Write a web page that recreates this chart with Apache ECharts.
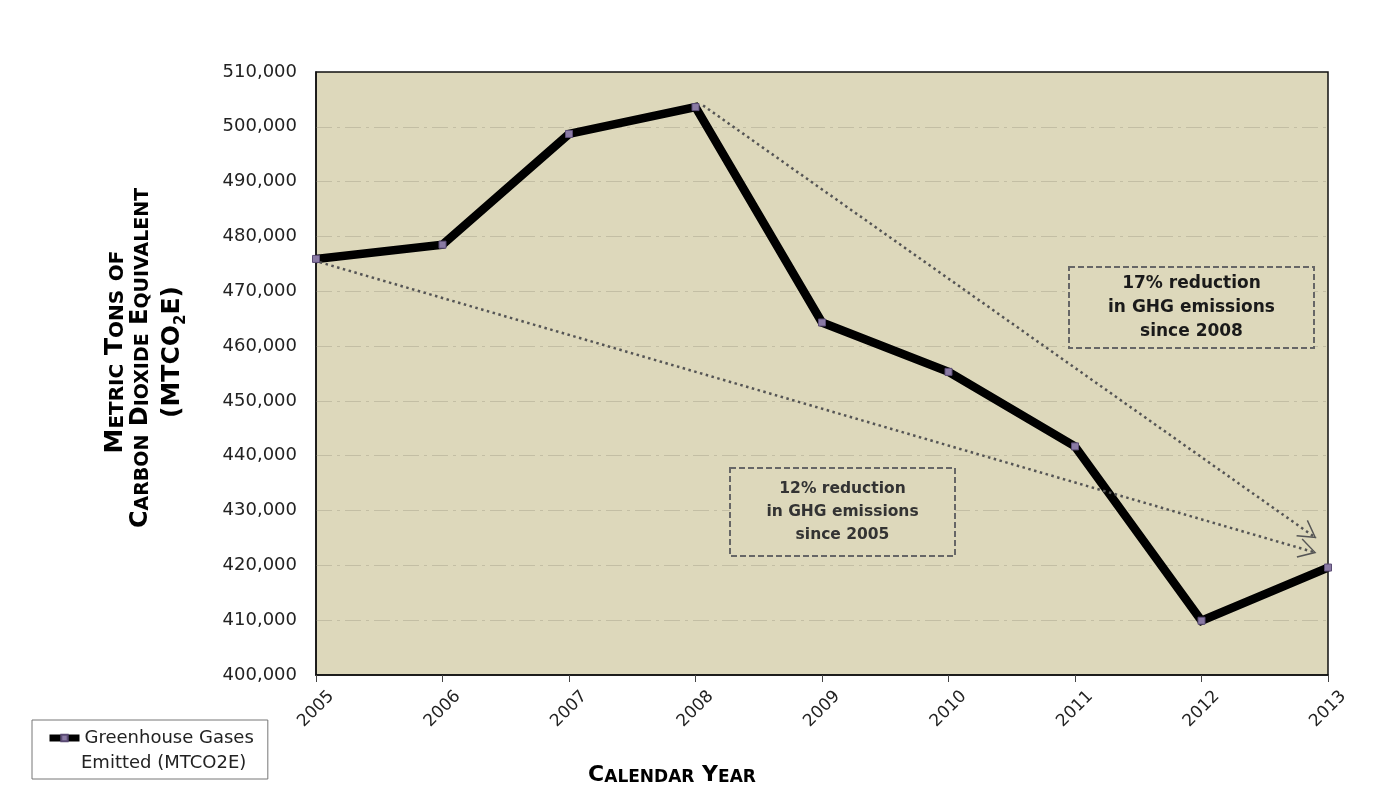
<!DOCTYPE html>
<html>
<head>
<meta charset="utf-8">
<title>Greenhouse Gases Emitted (MTCO2E)</title>
<script src="https://cdn.jsdelivr.net/npm/echarts@6/dist/echarts.min.js"></script>
<style>
  html, body { margin: 0; padding: 0; background: #ffffff; }
  #chart { width: 1392px; height: 804px; }
</style>
</head>
<body>
<div id="chart"></div>
<script>
// Calendar years and annual greenhouse gas emissions (metric tons CO2e)
const years = [2005, 2006, 2007, 2008, 2009, 2010, 2011, 2012, 2013];
const emissions = [475900, 478500, 498700, 503600, 464300, 455300, 441700, 409900, 419600];

// Y axis range and step
const yTicks = { min: 400000, max: 510000, step: 10000 };

// Trend arrows: [start, end] in [year, value]
const trendSince2008 = [[2008.06, 503900], [2012.905, 425000]];
const trendSince2005 = [[2005.03, 475300], [2012.905, 422300]];

// Callout texts
const calloutSince2008 = ['17% reduction', 'in GHG emissions', 'since 2008'];
const calloutSince2005 = ['12% reduction', 'in GHG emissions', 'since 2005'];

const seriesName = 'Greenhouse Gases Emitted (MTCO2E)';
const legendLines = ['Greenhouse Gases', 'Emitted (MTCO2E)'];

const FONT = '"DejaVu Sans", "Liberation Sans", Arial, sans-serif';
const PLOT_BG = '#ddd8bb';

// Open chevron arrowhead; tip sits at the centre of the symbol box
const chevron = 'path://M10,17 L20,34.3 L18.7,35 L10,19.9 L1.3,35 L0,34.3 Z M10,0 L10.01,0 Z';

const chart = echarts.init(document.getElementById('chart'), null, { renderer: 'canvas' });

// Small-caps helper: each word is [large part, small part]
function smallCaps(words) {
  return words.map(w => (w[0] ? '{b|' + w[0] + '}' : '') + (w[1] ? '{s|' + w[1] + '}' : '')).join('{b| }');
}

const titleRich = (big, small) => ({
  b: { fontSize: big, fontWeight: 'bold', fontFamily: FONT, color: '#111', verticalAlign: 'bottom', lineHeight: big },
  s: { fontSize: small, fontWeight: 'bold', fontFamily: FONT, color: '#111', verticalAlign: 'bottom', lineHeight: big },
  sub: { fontSize: 15, fontWeight: 'bold', fontFamily: FONT, color: '#111', verticalAlign: 'bottom', lineHeight: big, padding: [0, 0, -4, 0] }
});

function callout(x, y, w, h, lines, fontSize, lineH, color) {
  return {
    type: 'group',
    x: x, y: y,
    z: 20,
    children: [
      {
        type: 'rect',
        z: 20,
        shape: { x: 0, y: 0, width: w, height: h },
        style: { fill: PLOT_BG, stroke: '#666', lineWidth: 2, lineDash: [6, 3] }
      },
      {
        type: 'text',
        z: 21,
        x: w / 2, y: h / 2,
        style: {
          text: lines.join('\n'),
          align: 'center', verticalAlign: 'middle',
          fontFamily: FONT, fontWeight: 'bold', fontSize: fontSize,
          lineHeight: lineH, fill: color
        }
      }
    ]
  };
}

const option = {
  backgroundColor: '#ffffff',
  animation: false,
  grid: {
    left: 316, right: 64, top: 72, bottom: 129,
    show: true, backgroundColor: PLOT_BG, borderColor: '#111', borderWidth: 1.5,
    outerBoundsMode: 'none'
  },
  legend: {
    left: 32, top: 720,
    orient: 'vertical',
    padding: [9, 14, 32, 14],
    backgroundColor: '#ffffff',
    borderColor: '#777', borderWidth: 1, borderRadius: 0,
    itemWidth: 30, itemHeight: 8,
    lineStyle: { width: 7, color: '#000' },
    formatter: () => legendLines[0],
    textStyle: { fontFamily: FONT, fontSize: 18, color: '#222' },
    selectedMode: false,
    data: [seriesName]
  },
  xAxis: {
    type: 'value',
    min: years[0], max: years[years.length - 1], interval: 1,
    axisLine: { show: true, lineStyle: { color: '#111', width: 1.5 } },
    axisTick: { show: true, length: 7, lineStyle: { color: '#444' } },
    splitLine: { show: false },
    axisLabel: {
      rotate: 45, margin: 34,
      align: 'center', verticalAlign: 'middle',
      fontFamily: FONT, fontSize: 17, color: '#222',
      formatter: v => String(v)
    }
  },
  yAxis: {
    type: 'value',
    min: yTicks.min, max: yTicks.max, interval: yTicks.step,
    axisLine: { show: true, lineStyle: { color: '#111', width: 1.5 } },
    axisTick: { show: false },
    splitLine: {
      show: true, showMinLine: false, showMaxLine: false,
      lineStyle: { color: '#c3bea4', width: 1, type: [16, 5, 3, 5] }
    },
    axisLabel: {
      margin: 19,
      fontFamily: FONT, fontSize: 18, color: '#222',
      formatter: v => v.toLocaleString('en-US')
    }
  },
  series: [
    {
      name: seriesName,
      type: 'line',
      data: years.map((yr, i) => [yr, emissions[i]]),
      symbol: 'rect',
      symbolSize: 7,
      showAllSymbol: true,
      itemStyle: { color: '#8a7aa4', borderColor: '#5b4c75', borderWidth: 1 },
      lineStyle: { color: '#000', width: 8.5, join: 'miter' },
      emphasis: { disabled: true },
      z: 3,
      markLine: {
        silent: true,
        animation: false,
        symbol: ['none', chevron],
        symbolSize: [20, 35],
        label: { show: false },
        lineStyle: { color: '#555', width: 2.5, type: [2.5, 3.5] },
        itemStyle: { color: '#555' },
        emphasis: { disabled: true },
        data: [
          [{ coord: trendSince2008[0] }, { coord: trendSince2008[1] }],
          [{ coord: trendSince2005[0] }, { coord: trendSince2005[1] }]
        ]
      }
    }
  ],
  graphic: [
    // Y axis title (small caps, three lines, reading upward)
    {
      type: 'text', x: 115, y: 352, rotation: Math.PI / 2,
      style: {
        text: smallCaps([['M', 'ETRIC'], ['T', 'ONS'], ['', 'OF']]),
        rich: titleRich(25, 20), align: 'center', verticalAlign: 'middle'
      }
    },
    {
      type: 'text', x: 141, y: 358, rotation: Math.PI / 2,
      style: {
        text: smallCaps([['C', 'ARBON'], ['D', 'IOXIDE'], ['E', 'QUIVALENT']]),
        rich: titleRich(24, 19), align: 'center', verticalAlign: 'middle'
      }
    },
    {
      type: 'text', x: 172, y: 352, rotation: Math.PI / 2,
      style: {
        text: '{b|(MTCO}{sub|2}{b|E)}',
        rich: titleRich(25, 20), align: 'center', verticalAlign: 'middle'
      }
    },
    // X axis title
    {
      type: 'text', x: 672, y: 775,
      style: {
        text: smallCaps([['C', 'ALENDAR'], ['Y', 'EAR']]),
        rich: {
          b: { fontSize: 22, fontWeight: 'bold', fontFamily: FONT, color: '#111', verticalAlign: 'bottom', lineHeight: 22 },
          s: { fontSize: 17, fontWeight: 'bold', fontFamily: FONT, color: '#111', verticalAlign: 'bottom', lineHeight: 22 }
        },
        align: 'center', verticalAlign: 'middle'
      }
    },
    // Second line of the legend entry
    {
      type: 'text', x: 81, y: 763, z: 100,
      style: {
        text: legendLines[1],
        fontFamily: FONT, fontSize: 18, fill: '#222',
        align: 'left', verticalAlign: 'middle'
      }
    },
    // Callouts
    callout(1069, 267, 245, 81, calloutSince2008, 17, 24, '#1a1a1a'),
    callout(730, 468, 225, 88, calloutSince2005, 15.5, 23, '#333')
  ]
};

chart.setOption(option);
</script>
</body>
</html>
